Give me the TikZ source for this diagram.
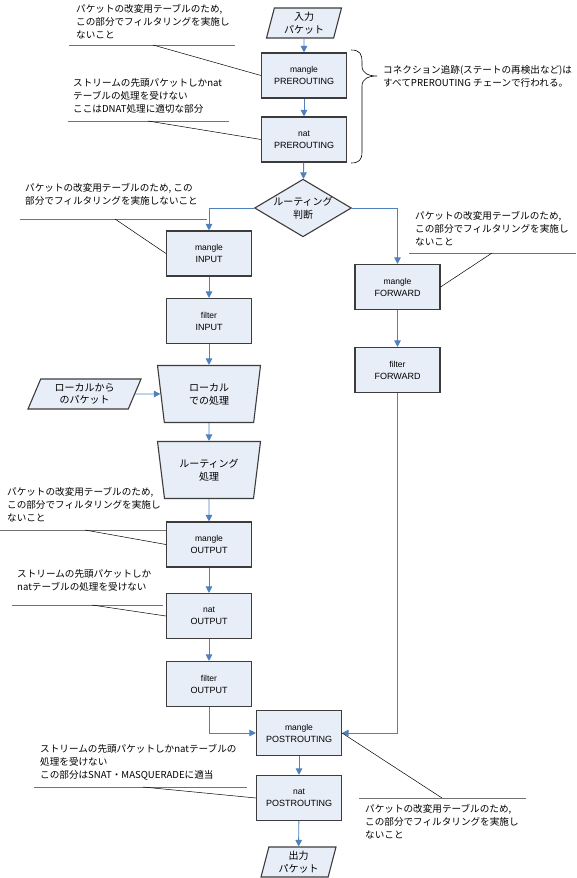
\documentclass[tikz,border=0pt]{standalone}
\usepackage{fontspec}
\setmainfont{Noto Sans CJK JP}
\newfontfamily\lat{Liberation Sans}
\usetikzlibrary{shapes.geometric, arrows.meta}
\definecolor{boxfill}{RGB}{232,238,247}
\definecolor{boxline}{RGB}{60,60,60}
\definecolor{flow}{RGB}{79,129,189}
\tikzset{
  shapebase/.style={draw=boxline, fill=boxfill, line width=1.1pt, inner sep=0pt, align=center},
  tbl/.style={shapebase, minimum width=85, minimum height=45, font=\lat\fontsize{9}{12}\selectfont},
  pkt/.style={shapebase, trapezium, trapezium left angle=70, trapezium right angle=110, trapezium stretches body, minimum width=75, minimum height=30, font=\fontsize{10}{12.5}\selectfont},
  proc/.style={shapebase, trapezium, trapezium left angle=72.5, trapezium right angle=72.5, shape border rotate=180, trapezium stretches body, minimum width=103, minimum height=57, font=\fontsize{10}{13}\selectfont},
  judge/.style={shapebase, diamond, aspect=1.68, minimum width=94, minimum height=56, font=\fontsize{10}{13}\selectfont},
  flowline/.style={flow, line width=0.9pt, -{Triangle[length=6.5pt,width=6.5pt]}},
  note/.style={anchor=west, inner sep=0pt, align=left, font=\fontsize{9.6}{13}\selectfont},
  rule/.style={black!55, line width=0.8pt},
  lead/.style={black, line width=0.5pt},
}
\newcommand{\chain}[2]{{\fontsize{8.5}{12}\selectfont #1}\\#2}
\begin{document}
\begin{tikzpicture}[x=1pt, y=-1pt]
  \useasboundingbox (0,0) rectangle (577,878);

  \node[pkt] (in) at (304,23) {入力\\パケット};
  \node[tbl] (mpre) at (304,75.5) {\chain{mangle}{PREROUTING}};
  \node[tbl] (npre) at (304,139.5) {\chain{nat}{PREROUTING}};
  \node[judge] (route) at (303,208) {ルーティング\\判断};

  \node[tbl] (min) at (209,253.5) {\chain{mangle}{INPUT}};
  \node[tbl] (fin) at (209,321) {\chain{filter}{INPUT}};
  \node[proc] (local) at (209,394) {ローカル\\での処理};
  \node[pkt, minimum width=113, trapezium left angle=59, trapezium right angle=121] (lpkt) at (84.5,394) {ローカルから\\のパケット};
  \node[proc] (rproc) at (209,470) {ルーティング\\処理};
  \node[tbl] (mout) at (209,544.5) {\chain{mangle}{OUTPUT}};
  \node[tbl] (nout) at (209,616) {\chain{nat}{OUTPUT}};
  \node[tbl] (fout) at (209,684) {\chain{filter}{OUTPUT}};

  \node[tbl] (mfwd) at (397.5,287) {\chain{mangle}{FORWARD}};
  \node[tbl] (ffwd) at (397.5,370) {\chain{filter}{FORWARD}};

  \node[tbl] (mpost) at (299,733) {\chain{mangle}{POSTROUTING}};
  \node[tbl] (npost) at (299,798) {\chain{nat}{POSTROUTING}};
  \node[pkt] (out) at (298.5,862) {出力\\パケット};

  \draw[flowline] (in) -- (mpre);
  \draw[flowline] (mpre) -- (npre);
  \draw[flowline] (npre) -- (route);
  \draw[flowline] (route.west) -| (min.north);
  \draw[flowline] (route.east) -| (mfwd.north);
  \draw[flowline] (min) -- (fin);
  \draw[flowline] (fin) -- (local);
  \draw[flowline] (lpkt) -- (local);
  \draw[flowline] (local) -- (rproc);
  \draw[flowline] (rproc) -- (mout);
  \draw[flowline] (mout) -- (nout);
  \draw[flowline] (nout) -- (fout);
  \draw[flowline] (mfwd) -- (ffwd);
  \draw[flowline] (fout.south) |- (mpost.west);
  \draw[flowline] (ffwd.south) |- (mpost.east);
  \draw[flowline] (mpost) -- (npost);
  \draw[flowline] (npost) -- (out);

  \draw[black, line width=0.6pt] (351,50) .. controls (360,50) and (362,54) .. (362,62)
    -- (362,66) .. controls (362,73) and (368,76) .. (377,76)
    .. controls (368,76) and (362,79) .. (362,86)
    -- (362,152) .. controls (362,160) and (359,163) .. (351,163);
  \node[note] (conntrack) at (383,76.5) {コネクション追跡(ステートの再検出など)は\\すべてPREROUTING チェーンで行われる。};

  \node[note] (t1) at (76,21.5) {パケットの改変用テーブルのため,\\この部分でフィルタリングを実施し\\ないこと};
  \draw[rule] (69,45) -- (235,45);
  \coordinate (p1) at (153,45);
  \draw[lead] (p1) -- (mpre.west);

  \node[note] (t2) at (73,96) {ストリームの先頭パケットしかnat\\テーブルの処理を受けない\\ここはDNAT処理に適切な部分};
  \draw[rule] (68,121) -- (229,121);
  \coordinate (p2) at (148,121);
  \draw[lead] (p2) -- (npre.west);

  \node[note] (t3) at (25,194) {パケットの改変用テーブルのため, この\\部分でフィルタリングを実施しないこと};
  \draw[rule] (20,219) -- (207,219);
  \coordinate (p3) at (115,219);
  \draw[lead] (p3) -- (min.west);

  \node[note] (t4) at (415,228.5) {パケットの改変用テーブルのため,\\この部分でフィルタリングを実施し\\ないこと};
  \draw[rule] (409,253) -- (576,253);
  \coordinate (p4) at (492,253);
  \draw[lead] (p4) -- (mfwd.east);

  \node[note] (t5) at (7,505) {パケットの改変用テーブルのため,\\この部分でフィルタリングを実施し\\ないこと};
  \draw[rule] (0,530) -- (166,530);
  \coordinate (p5) at (85,530);
  \draw[lead] (p5) -- (mout.west);

  \node[note] (t6) at (17,580.5) {ストリームの先頭パケットしか\\natテーブルの処理を受けない};
  \draw[rule] (12,605) -- (163,605);
  \coordinate (p6) at (92,605);
  \draw[lead] (p6) -- (nout.west);

  \node[note] (t7) at (40,762) {ストリームの先頭パケットしかnatテーブルの\\処理を受けない\\この部分はSNAT・MASQUERADEに適当};
  \draw[rule] (34,787) -- (247,787);
  \coordinate (p7) at (143,787);
  \draw[lead] (p7) -- (npost.west);

  \node[note] (t8) at (365,821.5) {パケットの改変用テーブルのため,\\この部分でフィルタリングを実施し\\ないこと};
  \draw[rule] (359,798) -- (526,798);
  \coordinate (p8) at (442,798);
  \draw[lead] (p8) -- (mpost.east);
\end{tikzpicture}
\end{document}
